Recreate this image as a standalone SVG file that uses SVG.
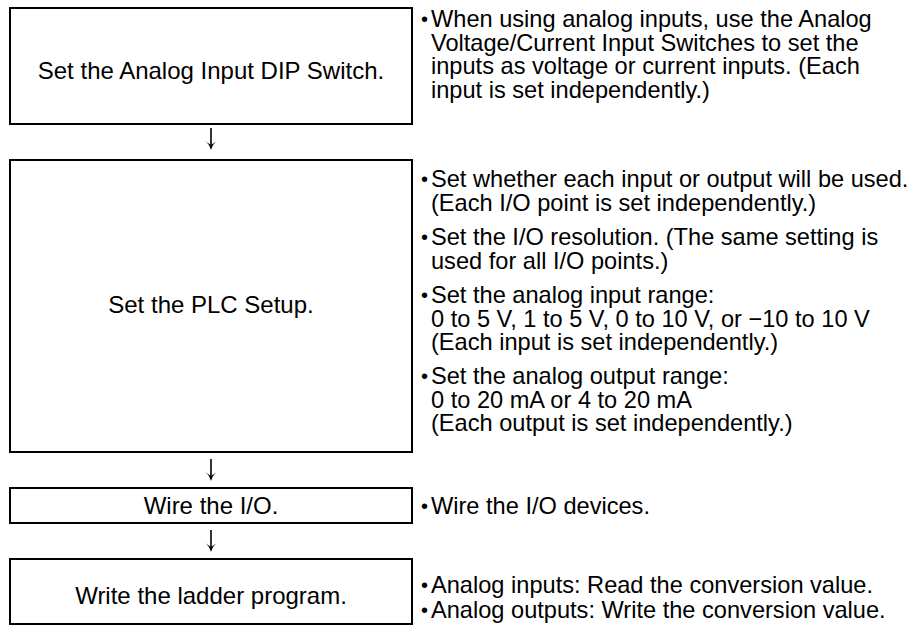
<svg xmlns="http://www.w3.org/2000/svg" width="911" height="626" viewBox="0 0 911 626">
<style>
.box{fill:#fff;stroke:#000;stroke-width:2}
.t{font-family:"Liberation Sans",Arial,sans-serif;font-size:24px;fill:#000}
.n{font-family:"Liberation Sans",Arial,sans-serif;font-size:23.6px;fill:#000}
.b{font-size:20px}
.c{text-anchor:middle}
.conn line{stroke:#000;stroke-width:1.6}
.conn path{fill:#000}
</style>
<rect width="911" height="626" fill="#fff"/>
<g id="step1">
<rect class="box" x="10" y="8" width="402" height="116"/>
<text class="t c" x="211" y="79">Set the Analog Input DIP Switch.</text>
</g>
<g id="note1" class="n">
<text class="b" x="421" y="26">•</text>
<text x="431" y="27">When using analog inputs, use the Analog</text>
<text x="431" y="50.5">Voltage/Current Input Switches to set the</text>
<text x="431" y="74">inputs as voltage or current inputs. (Each</text>
<text x="431" y="97.5">input is set independently.)</text>
</g>
<g id="step2">
<rect class="box" x="10" y="160" width="402" height="292"/>
<text class="t c" x="211" y="313">Set the PLC Setup.</text>
</g>
<g id="note2" class="n">
<text class="b" x="421" y="186">•</text>
<text x="431" y="187">Set whether each input or output will be used.</text>
<text x="431" y="210.5">(Each I/O point is set independently.)</text>
<text class="b" x="421" y="244">•</text>
<text x="431" y="245">Set the I/O resolution. (The same setting is</text>
<text x="431" y="268.5">used for all I/O points.)</text>
<text class="b" x="421" y="302">•</text>
<text x="431" y="303">Set the analog input range:</text>
<text x="431" y="326.5">0 to 5 V, 1 to 5 V, 0 to 10 V, or −10 to 10 V</text>
<text x="431" y="350">(Each input is set independently.)</text>
<text class="b" x="421" y="383">•</text>
<text x="431" y="384">Set the analog output range:</text>
<text x="431" y="407.5">0 to 20 mA or 4 to 20 mA</text>
<text x="431" y="431">(Each output is set independently.)</text>
</g>
<g id="step3">
<rect class="box" x="10" y="488" width="402" height="35"/>
<text class="t c" x="211" y="514">Wire the I/O.</text>
</g>
<g id="note3" class="n">
<text class="b" x="421" y="513">•</text>
<text x="431" y="514">Wire the I/O devices.</text>
</g>
<g id="step4">
<rect class="box" x="10" y="559" width="402" height="65"/>
<text class="t c" x="211" y="604">Write the ladder program.</text>
</g>
<g id="note4" class="n">
<text class="b" x="421" y="592">•</text>
<text x="431" y="593">Analog inputs: Read the conversion value.</text>
<text class="b" x="421" y="617">•</text>
<text x="431" y="618">Analog outputs: Write the conversion value.</text>
</g>
<g id="connectors" class="conn">
<line x1="211" y1="128" x2="211" y2="148"/>
<path d="M205,141 Q209,143.5 211,150 Q213,143.5 217,141 L211,145 Z"/>
<line x1="211" y1="459" x2="211" y2="479"/>
<path d="M205,472 Q209,474.5 211,481 Q213,474.5 217,472 L211,476 Z"/>
<line x1="211" y1="530" x2="211" y2="550"/>
<path d="M205,543 Q209,545.5 211,552 Q213,545.5 217,543 L211,547 Z"/>
</g>
</svg>
